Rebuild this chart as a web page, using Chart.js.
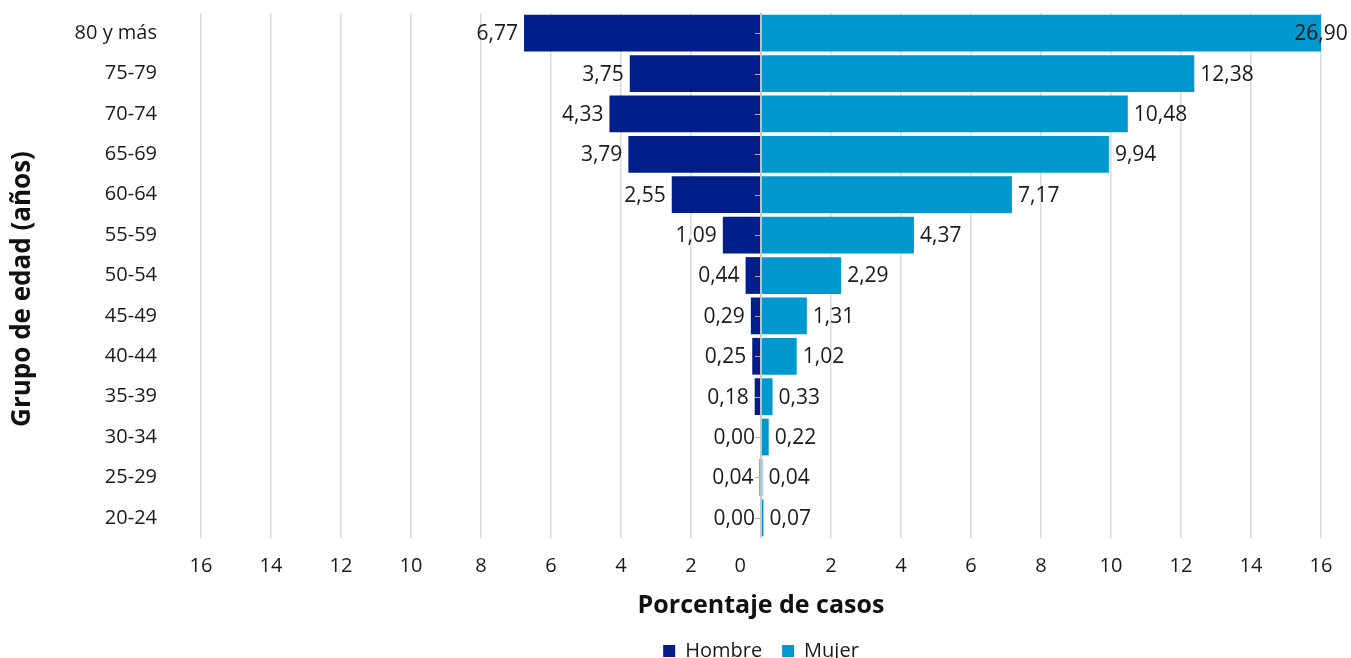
<!DOCTYPE html>
<html>
<head>
<meta charset="utf-8">
<script src="https://cdn.jsdelivr.net/npm/chart.js@4"></script>
<style>
  html, body { margin: 0; padding: 0; background: #ffffff; overflow: hidden; }
  #wrap { position: absolute; left: 0; top: 0; width: 1351px; height: 671px; }
</style>
</head>
<body>
<div id="wrap"><canvas id="c"></canvas></div>
<script>
// ---- Data ----
const categories = ['80 y más', '75-79', '70-74', '65-69', '60-64', '55-59', '50-54', '45-49', '40-44', '35-39', '30-34', '25-29', '20-24'];
const seriesNames = ['Hombre', 'Mujer'];
const hombre = [6.77, 3.75, 4.33, 3.79, 2.55, 1.09, 0.44, 0.29, 0.25, 0.18, 0.00, 0.04, 0.00];
const mujer = [26.90, 12.38, 10.48, 9.94, 7.17, 4.37, 2.29, 1.31, 1.02, 0.33, 0.22, 0.04, 0.07];
const axisMax = 16;
const axisStep = 2;
const xTitle = 'Porcentaje de casos';
const yTitle = 'Grupo de edad (años)';

const DARK = '#011E8A';
const LIGHT = '#0098CE';
const FONT = "'Open Sans', 'DejaVu Sans', sans-serif";

function fmt(v) { return v.toFixed(2).replace('.', ','); }

const labelPlugin = {
  id: 'valueLabels',
  afterDatasetsDraw(chart) {
    const ctx = chart.ctx;
    const xs = chart.scales.x;
    const ys = chart.scales.y;
    const area = chart.chartArea;
    const x0 = xs.getPixelForValue(0);
    ctx.save();
    // centre axis line with small tick marks
    ctx.strokeStyle = '#c4c4c4';
    ctx.lineWidth = 1.5;
    ctx.beginPath();
    ctx.moveTo(x0, area.top);
    ctx.lineTo(x0, area.bottom);
    ctx.stroke();
    ctx.lineWidth = 1;
    ctx.strokeStyle = '#b0b0b0';
    categories.forEach((c, i) => {
      const y = Math.round(ys.getPixelForValue(i)) + 0.5;
      ctx.beginPath();
      ctx.moveTo(x0 - 6, y);
      ctx.lineTo(x0, y);
      ctx.stroke();
    });
    ctx.font = '21px ' + FONT;
    ctx.fillStyle = '#1a1a1a';
    ctx.textBaseline = 'middle';
    const metaH = chart.getDatasetMeta(0);
    metaH.data.forEach((el, i) => {
      ctx.textAlign = 'right';
      ctx.fillText(fmt(hombre[i]), el.x - 6, el.y + 1);
    });
    const metaM = chart.getDatasetMeta(1);
    metaM.data.forEach((el, i) => {
      if (mujer[i] > axisMax) {
        ctx.textAlign = 'center';
        ctx.fillText(fmt(mujer[i]), area.right, el.y + 1);
      } else {
        ctx.textAlign = 'left';
        ctx.fillText(fmt(mujer[i]), el.x + 6, el.y + 1);
      }
    });
    ctx.restore();
  }
};

new Chart(document.getElementById('c'), {
  type: 'bar',
  data: {
    labels: categories,
    datasets: [
      {
        label: seriesNames[0],
        data: hombre.map(v => -v),
        backgroundColor: DARK,
        borderWidth: 0,
        grouped: false,
        barPercentage: 0.91,
        categoryPercentage: 1.0
      },
      {
        label: seriesNames[1],
        data: mujer,
        backgroundColor: LIGHT,
        borderWidth: 0,
        grouped: false,
        barPercentage: 0.91,
        categoryPercentage: 1.0
      }
    ]
  },
  options: {
    indexAxis: 'y',
    responsive: true,
    maintainAspectRatio: false,
    animation: false,
    layout: { padding: { top: 13, right: 30, left: 0, bottom: 0 } },
    font: { family: FONT },
    scales: {
      x: {
        min: -axisMax,
        max: axisMax,
        grid: { color: '#dadada', lineWidth: 1.5, drawTicks: false },
        border: { display: false },
        ticks: {
          stepSize: axisStep,
          padding: 16,
          color: '#1a1a1a',
          font: { family: FONT, size: 20 },
          maxRotation: 0,
          callback: (v) => v === 0 ? '0' + '\u00A0'.repeat(8) : String(Math.abs(v))
        },
        title: {
          display: true,
          text: xTitle,
          color: '#111',
          font: { family: FONT, size: 25, weight: 'bold' },
          padding: { top: 0, bottom: 0 }
        },
        afterFit: (scale) => { scale.height = 83; }
      },
      y: {
        grid: { display: false, drawTicks: false },
        border: { display: false },
        ticks: {
          padding: 44,
          color: '#1a1a1a',
          font: { family: FONT, size: 20 }
        },
        title: {
          display: true,
          text: yTitle + '\u00A0'.repeat(4),
          color: '#111',
          font: { family: FONT, size: 26, weight: 'bold' },
          padding: { top: 7, bottom: 0 }
        },
        afterFit: (scale) => {
          scale.width = 201;
          scale.paddingTop = 0;
          scale.paddingBottom = 0;
        }
      }
    },
    plugins: {
      legend: {
        position: 'bottom',
        fullSize: false,
        labels: {
          boxWidth: 12,
          boxHeight: 12,
          padding: 20,
          color: '#1a1a1a',
          font: { family: FONT, size: 20 }
        }
      },
      tooltip: { enabled: false }
    }
  },
  plugins: [labelPlugin]
});
</script>
</body>
</html>
